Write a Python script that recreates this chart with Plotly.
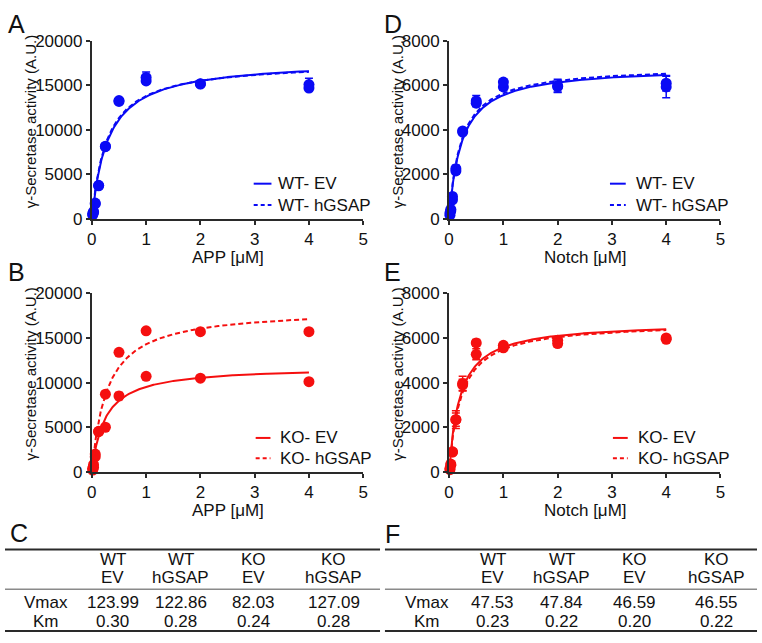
import numpy as np
import plotly.graph_objects as go

W, H = 762, 643

# ---------------- data ----------------
conc = [0.0156, 0.03125, 0.0625, 0.125, 0.25, 0.5, 1, 2, 4]

# Panel A: APP, WT
A_ev = [400, 800, 1750, 3700, 8100, 13300, 15500, 15200, 14700]
A_ev_err = [50, 50, 100, 150, 150, 200, 300, 150, 300]
A_hg = [550, 700, 1650, 3750, 8150, 13200, 15900, 15150, 15100]
A_hg_err = [50, 50, 100, 150, 150, 200, 600, 150, 700]

# Panel B: APP, KO
B_ev = [200, 500, 1700, 4500, 5000, 8500, 10700, 10500, 10100]
B_ev_err = [50, 50, 100, 150, 150, 400, 150, 150, 150]
B_hg = [400, 800, 2000, 4550, 8700, 13400, 15800, 15700, 15700]
B_hg_err = [50, 50, 100, 150, 150, 200, 150, 150, 150]

# Panel D: Notch, WT
D_ev = [150, 350, 850, 2150, 3900, 5200, 5930, 5980, 5930]
D_ev_err = [40, 60, 100, 150, 100, 150, 150, 300, 480]
D_hg = [250, 420, 1000, 2250, 3950, 5300, 6150, 5950, 6100]
D_hg_err = [40, 60, 100, 150, 100, 250, 120, 250, 350]

# Panel E: Notch, KO
E_ev = [100, 300, 890, 2340, 3960, 5780, 5670, 5900, 6000]
E_ev_err = [40, 60, 80, 400, 330, 150, 100, 150, 80]
E_hg = [150, 350, 900, 2340, 3900, 5270, 5560, 5750, 5940]
E_hg_err = [40, 60, 80, 300, 250, 250, 100, 150, 80]

# Fitted Michaelis-Menten parameters (tables C and F)
table_cols_top = ["WT", "WT", "KO", "KO"]
table_cols_bot = ["EV", "hGSAP", "EV", "hGSAP"]
C_vmax = [123.99, 122.86, 82.03, 127.09]
C_km = [0.30, 0.28, 0.24, 0.28]
F_vmax = [47.53, 47.84, 46.59, 46.55]
F_km = [0.23, 0.22, 0.20, 0.22]
C_vmax_txt = ["123.99", "122.86", "82.03", "127.09"]
C_km_txt = ["0.30", "0.28", "0.24", "0.28"]
F_vmax_txt = ["47.53", "47.84", "46.59", "46.55"]
F_km_txt = ["0.23", "0.22", "0.20", "0.22"]
VMAX_TO_AU = 144.0  # table Vmax units -> plotted A.U.

x_ticks = [0, 1, 2, 3, 4, 5]
app_yticks = [0, 5000, 10000, 15000, 20000]
notch_yticks = [0, 2000, 4000, 6000, 8000]

BLUE = "rgb(10,10,245)"
RED = "rgb(245,15,15)"
AX = "#2a2a2a"
FONT = "Liberation Sans, Arial, sans-serif"
TXT = "#111"


def px(x):
    return x / W


def py(y):
    return 1 - y / H


fig = go.Figure()

panels = [
    ("A", "x", "y", BLUE, (A_ev, A_ev_err, A_hg, A_hg_err), C_vmax[0:2], C_km[0:2]),
    ("B", "x2", "y2", RED, (B_ev, B_ev_err, B_hg, B_hg_err), C_vmax[2:4], C_km[2:4]),
    ("D", "x3", "y3", BLUE, (D_ev, D_ev_err, D_hg, D_hg_err), F_vmax[0:2], F_km[0:2]),
    ("E", "x4", "y4", RED, (E_ev, E_ev_err, E_hg, E_hg_err), F_vmax[2:4], F_km[2:4]),
]

xfit = np.linspace(0, 4, 300)
for name, xa, ya, col, (ev, eve, hg, hge), vm, km in panels:
    for yv, ye in ((ev, eve), (hg, hge)):
        fig.add_trace(go.Scatter(
            x=conc, y=yv, mode="markers", xaxis=xa, yaxis=ya,
            marker=dict(size=11, color=col, line=dict(width=0)),
            error_y=dict(type="data", array=ye, color=col, thickness=1.5, width=4),
            cliponaxis=False, showlegend=False))
    for i, dash in enumerate(["solid", "5px,3px"]):
        yfit = vm[i] * VMAX_TO_AU * xfit / (km[i] + xfit)
        fig.add_trace(go.Scatter(
            x=xfit, y=yfit, mode="lines", xaxis=xa, yaxis=ya,
            line=dict(color=col, width=2, dash=dash),
            cliponaxis=False, showlegend=False))

# axis geometry in pixels
left_x = (88, 363)
right_x = (450, 725)
top_y = (216, 33)
bot_y = (477, 293)

axis_common = dict(
    showgrid=False, zeroline=False, showline=True, linecolor=AX, linewidth=2,
    ticks="outside", ticklen=4, tickwidth=1.5, tickcolor=AX,
    tickfont=dict(family=FONT, size=17, color=TXT),
)

layout = dict(
    width=W, height=H, margin=dict(l=0, r=0, t=0, b=0),
    paper_bgcolor="white", plot_bgcolor="white", showlegend=False,
)

specs = [
    ("xaxis", "yaxis", "y", left_x, top_y, app_yticks, 20000),
    ("xaxis2", "yaxis2", "y2", left_x, bot_y, app_yticks, 20000),
    ("xaxis3", "yaxis3", "y3", right_x, top_y, notch_yticks, 8000),
    ("xaxis4", "yaxis4", "y4", right_x, bot_y, notch_yticks, 8000),
]
for xk, yk, yanchor, xr, yr, yt, ymax in specs:
    xanchor = "x" + xk[5:] if xk[5:] else "x"
    layout[xk] = dict(axis_common, domain=[px(xr[0]), px(xr[1])], range=[0, 5],
                      tickvals=x_ticks, ticktext=[str(v) for v in x_ticks],
                      anchor=yanchor)
    layout[yk] = dict(axis_common, domain=[py(yr[0]), py(yr[1])], range=[0, ymax],
                      tickvals=yt, ticktext=[str(v) for v in yt], anchor=xanchor)

fig.update_layout(**layout)

ann = []
shapes = []


def text(x, y, s, size=17, xanchor="center", angle=0):
    ann.append(dict(x=px(x), y=py(y), xref="paper", yref="paper", text=s,
                    showarrow=False, xanchor=xanchor, yanchor="middle",
                    textangle=angle, font=dict(family=FONT, size=size, color=TXT)))


def hline(x0, x1, y, color, width, dash="solid"):
    shapes.append(dict(type="line", xref="paper", yref="paper", x0=px(x0), x1=px(x1),
                       y0=py(y), y1=py(y), line=dict(color=color, width=width, dash=dash)))


# panel letters
for s, x, y in [("A", 12, 15), ("B", 12, 271), ("C", 14, 540),
                ("D", 393, 15), ("E", 393, 271), ("F", 393, 541)]:
    text(x, y, s, size=25)

# axis titles
ytitle = "γ-Secretase activity (A.U.)"
text(26, 116, ytitle, size=15, angle=-90)
text(26, 376, ytitle, size=15, angle=-90)
text(398, 116, ytitle, size=15, angle=-90)
text(398, 376, ytitle, size=15, angle=-90)
text(226, 256, "APP [μM]")
text(226, 517, "APP [μM]")
text(588, 256, "Notch [μM]")
text(588, 517, "Notch [μM]")

# legends
legends = [
    (252, 270, 275, 180, 202, BLUE, "WT- EV", "WT- hGSAP"),
    (254, 269, 277, 442, 463, RED, "KO- EV", "KO- hGSAP"),
    (613, 629, 637, 180, 202, BLUE, "WT- EV", "WT- hGSAP"),
    (616, 631, 639, 442, 463, RED, "KO- EV", "KO- hGSAP"),
]
for x0, x1, xt, y1, y2, col, l1, l2 in legends:
    hline(x0, x1, y1, col, 2)
    hline(x0, x1, y2, col, 2, "4px,3px")
    text(xt, y1, l1, xanchor="left")
    text(xt, y2, l2, xanchor="left")


def table(x0, x1, label_x, col_x, vmax_txt, km_txt):
    hline(x0, x1, 557, "#2a2a2a", 2)
    hline(x0, x1, 598, "#8a8a8a", 1.5)
    hline(x0, x1, 641, "#2a2a2a", 2)
    for cx, t, b in zip(col_x, table_cols_top, table_cols_bot):
        text(cx, 567, t)
        text(cx, 586, b)
    text(label_x, 612, "Vmax")
    text(label_x, 631, "Km")
    for cx, v, k in zip(col_x, vmax_txt, km_txt):
        text(cx, 612, v)
        text(cx, 631, k)


table(0, 380, 42, [109, 178, 252, 333], C_vmax_txt, C_km_txt)
table(385, 762, 428, [494, 564, 638, 721], F_vmax_txt, F_km_txt)

fig.update_layout(annotations=ann, shapes=shapes)
fig.write_html(
    "out.html",
    config={"displayModeBar": False},
    post_script="document.body.style.margin='0';document.body.style.padding='0';"
                "document.body.style.overflow='hidden';",
)
